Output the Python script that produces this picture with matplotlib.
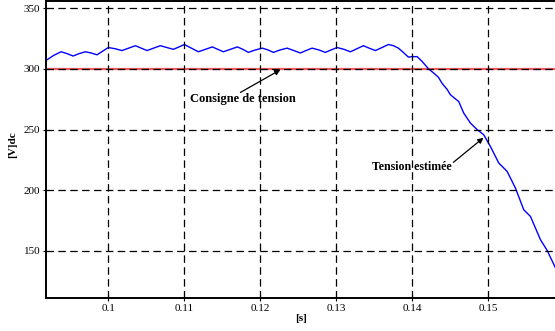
import matplotlib
matplotlib.use("Agg")
import matplotlib.pyplot as plt

plt.rcParams['font.family'] = ['Liberation Serif', 'DejaVu Serif']

t = [0.09184, 0.0928, 0.09378, 0.09457, 0.09536, 0.09617, 0.09697, 0.09774, 0.09851, 0.09925,
     0.1, 0.1009, 0.1018, 0.10268, 0.10355, 0.10432, 0.10509, 0.10596, 0.10684, 0.1077,
     0.10855, 0.1093, 0.11, 0.11092, 0.11184, 0.11276, 0.11368, 0.1144, 0.11513, 0.11605,
     0.11697, 0.1177, 0.11842, 0.11934, 0.12026, 0.121, 0.12171, 0.1226, 0.12351, 0.1244,
     0.12526, 0.126, 0.1268, 0.1277, 0.12855, 0.1293, 0.13009, 0.131, 0.13184, 0.1327,
     0.13355, 0.1343, 0.13513, 0.136, 0.13684, 0.1375, 0.13816, 0.1388, 0.13947, 0.14,
     0.14062, 0.14128, 0.14211, 0.1428, 0.14342, 0.1439, 0.14457, 0.145, 0.14609, 0.14675,
     0.14763, 0.1485, 0.14938, 0.15026, 0.15136, 0.15246, 0.15355, 0.15464, 0.15553, 0.15684,
     0.15772, 0.15882]
v_est = [307, 311, 314, 312.5, 310.5, 312.5, 314, 313, 311.5, 314.5,
         317.5, 316.5, 315, 317, 319, 317, 315, 317, 319, 317.5,
         316, 318, 320, 317, 314, 316, 318, 316, 314, 316,
         318, 316, 313.5, 315.5, 317, 315.5, 313.5, 315.5, 317, 315,
         313, 315, 317, 315.5, 313.5, 315.5, 317.5, 316, 314, 316.5,
         319, 317, 315, 317.5, 320, 319, 317, 313.5, 309.6, 310,
         310, 306, 300, 296.5, 293, 288, 283, 278.6, 273, 263.5,
         255.3, 250, 245.7, 236, 222.4, 215.5, 201.8, 184, 178.4, 159.3,
         150.5, 136]
v_ref = 300
xticks = [0.1, 0.11, 0.12, 0.13, 0.14, 0.15]
xticklabels = ['0.1', '0.11', '0.12', '0.13', '0.14', '0.15']
yticks = [150, 200, 250, 300, 350]

fig = plt.figure(figsize=(5.55, 3.31), dpi=100)
ax = fig.add_axes([46/555, 33/331, 1 - 46/555 + 0.002, 297/331])

ax.axhline(v_ref, color='#f05a5a', lw=1.6, zorder=2)
ax.plot(t, v_est, color='#0000ff', lw=1.0, zorder=2)

ax.set_xlim(0.0918, 0.1589)
ax.set_ylim(111.3, 355.8)
ax.set_xticks(xticks)
ax.set_xticklabels(xticklabels)
ax.set_yticks(yticks)
ax.grid(True, color='black', linestyle=(0, (6, 3.5)), lw=0.9, zorder=3)
ax.set_axisbelow(False)
for s in ['left', 'bottom', 'top']:
    ax.spines[s].set_linewidth(1.4)
ax.spines['right'].set_visible(False)
ax.tick_params(labelsize=8, direction='inout', length=4, width=0.8, pad=2)

ax.set_xlabel('[s]', fontsize=8, fontweight='bold', labelpad=1)
ax.set_ylabel('[V]dc', fontsize=8, fontweight='bold')
ax.yaxis.set_label_coords(-0.057, 0.515)

ax.text(0.11770, 275.3, 'Consigne de tension', fontsize=9, fontweight='bold',
        ha='center', va='center', zorder=5)
ax.annotate('', xy=(0.12263, 299.2), xytext=(0.11737, 280.5),
            arrowprops=dict(arrowstyle='-|>', color='black', lw=0.9, mutation_scale=8,
                            shrinkA=0, shrinkB=0), zorder=5)
ax.text(0.13987, 219.3, 'Tension estimée', fontsize=8.6, fontweight='bold',
        ha='center', va='center', zorder=5)
ax.annotate('', xy=(0.14934, 243.2), xytext=(0.14539, 223.0),
            arrowprops=dict(arrowstyle='-|>', color='black', lw=0.9, mutation_scale=8,
                            shrinkA=0, shrinkB=0), zorder=5)

fig.savefig('out.png', dpi=100)
